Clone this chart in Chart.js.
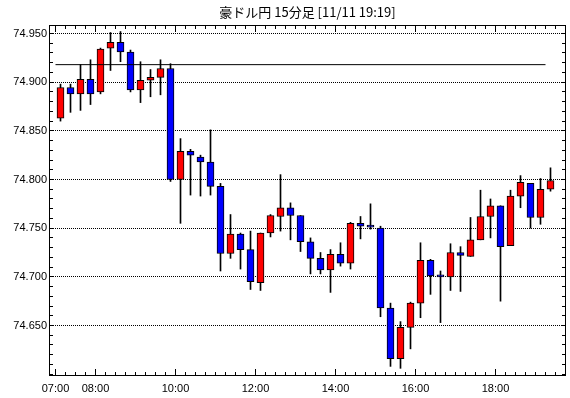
<!DOCTYPE html>
<html>
<head>
<meta charset="utf-8">
<script src="https://cdn.jsdelivr.net/npm/chart.js@4.4.1/dist/chart.umd.min.js"></script>
<style>
  html, body { margin: 0; padding: 0; background: #fff; }
  canvas { display: block; }
</style>
</head>
<body>
<canvas id="myChart" width="570" height="398"></canvas>
<script>
// 15-minute candles, 07:00 .. 19:15
const openPrices = [
    74.863, 74.8945, 74.888, 74.903, 74.890, 74.935, 74.941, 74.931, 74.892, 74.902,
    74.905, 74.914, 74.800, 74.829, 74.823, 74.818, 74.793, 74.724, 74.744, 74.728,
    74.694, 74.745, 74.762, 74.771, 74.763, 74.736, 74.719, 74.707, 74.723, 74.714,
    74.755, 74.752, 74.750, 74.668, 74.616, 74.648, 74.673, 74.717, 74.701, 74.700,
    74.725, 74.721, 74.738, 74.762, 74.773, 74.732, 74.783, 74.796, 74.761, 74.790
];
const highPrices = [
    74.898, 74.898, 74.918, 74.923, 74.935, 74.951, 74.952, 74.933, 74.921, 74.913,
    74.923, 74.919, 74.842, 74.831, 74.825, 74.851, 74.796, 74.764, 74.745, 74.747,
    74.745, 74.764, 74.805, 74.776, 74.763, 74.740, 74.725, 74.728, 74.735, 74.756,
    74.762, 74.775, 74.752, 74.673, 74.654, 74.674, 74.735, 74.718, 74.706, 74.734,
    74.731, 74.761, 74.789, 74.780, 74.773, 74.789, 74.804, 74.796, 74.801, 74.812
];
const lowPrices = [
    74.860, 74.869, 74.871, 74.877, 74.888, 74.912, 74.921, 74.890, 74.879, 74.885,
    74.887, 74.798, 74.755, 74.784, 74.783, 74.784, 74.706, 74.719, 74.708, 74.687,
    74.686, 74.741, 74.747, 74.738, 74.726, 74.703, 74.703, 74.684, 74.711, 74.708,
    74.739, 74.749, 74.659, 74.608, 74.606, 74.626, 74.658, 74.682, 74.653, 74.686,
    74.685, 74.721, 74.738, 74.740, 74.675, 74.732, 74.771, 74.750, 74.754, 74.788
];
const closePrices = [
    74.8945, 74.888, 74.903, 74.888, 74.934, 74.941, 74.931, 74.892, 74.902, 74.905,
    74.914, 74.800, 74.829, 74.825, 74.818, 74.793, 74.724, 74.744, 74.728, 74.695,
    74.745, 74.763, 74.771, 74.763, 74.736, 74.719, 74.707, 74.723, 74.714, 74.755,
    74.752, 74.751, 74.668, 74.616, 74.648, 74.673, 74.717, 74.701, 74.700, 74.725,
    74.722, 74.738, 74.762, 74.773, 74.731, 74.783, 74.797, 74.761, 74.790, 74.799
];

const timeLabels = ['07:00', '08:00', '10:00', '12:00', '14:00', '16:00', '18:00'];
const timeLabelSlots = [0, 4, 12, 20, 28, 36, 44];   // candle index each label sits in front of
const priceTicks = [74.65, 74.70, 74.75, 74.80, 74.85, 74.90, 74.95];
const refLevel = 74.918;

const UP_COLOR = '#ff0000';
const DOWN_COLOR = '#0000ff';

const wickData = highPrices.map((h, i) => ({ x: i, y: [lowPrices[i], h] }));
const bodyData = openPrices.map((o, i) => ({ x: i, y: [o, closePrices[i]] }));
const bodyColors = openPrices.map((o, i) => closePrices[i] >= o ? UP_COLOR : DOWN_COLOR);

const align = (p) => Math.round(p - 0.5) + 0.5;

// frame around the plot with small inward ticks, like the original
const framePlugin = {
    id: 'frame',
    afterDatasetsDraw(chart) {
        const { ctx, chartArea: a, scales: { x, y } } = chart;
        ctx.save();
        ctx.strokeStyle = '#000';
        ctx.lineWidth = 1;
        ctx.strokeRect(a.left + 0.5, a.top + 0.5, a.right - a.left - 1, a.bottom - a.top - 1);

        ctx.beginPath();
        for (let k = 60; k <= 95; k++) {
            const py = align(y.getPixelForValue(74 + k / 100));
            ctx.moveTo(a.left, py); ctx.lineTo(a.left + 4, py);
            ctx.moveTo(a.right, py); ctx.lineTo(a.right - 4, py);
        }
        for (let k = 0; -0.5 + k <= x.max; k++) {
            const px = align(x.getPixelForValue(k - 0.5));
            const len = timeLabelSlots.includes(k) ? 6 : 3;
            ctx.moveTo(px, a.bottom); ctx.lineTo(px, a.bottom - 1 - len);
            ctx.moveTo(px, a.top); ctx.lineTo(px, a.top + 1 + len);
        }
        ctx.stroke();
        ctx.restore();
    }
};

const labelFont = { family: '"Liberation Sans", Arial, sans-serif', size: 11 };

new Chart(document.getElementById('myChart'), {
    type: 'bar',
    data: {
        datasets: [
            {
                type: 'line',
                data: [{ x: -0.5, y: refLevel }, { x: 48.5, y: refLevel }],
                borderColor: '#000',
                borderWidth: 1,
                pointRadius: 0,
                order: 1
            },
            {
                data: bodyData,
                backgroundColor: bodyColors,
                borderColor: '#000',
                borderWidth: 1,
                borderSkipped: false,
                barThickness: 7,
                minBarLength: 2,
                grouped: false,
                order: 2
            },
            {
                data: wickData,
                backgroundColor: '#000',
                borderWidth: 0,
                barThickness: 1,
                grouped: false,
                order: 3
            }
        ]
    },
    options: {
        responsive: false,
        devicePixelRatio: 1,
        animation: false,
        layout: { padding: { left: 0, right: 4, top: 0, bottom: 0 } },
        plugins: {
            legend: { display: false },
            tooltip: { enabled: false },
            title: {
                display: true,
                text: '豪ドル円 15分足 [11/11 19:19]',
                fullSize: false,
                color: '#000',
                font: { family: '"Noto Sans CJK JP", sans-serif', size: 13, weight: 'normal' },
                padding: { top: 4, bottom: 5.4 }
            }
        },
        scales: {
            x: {
                type: 'linear',
                min: -1.15,
                max: 50.55,
                offset: false,
                grid: { display: false, drawTicks: false },
                border: { display: false },
                afterFit: (scale) => { scale.height = 22; },
                afterBuildTicks: (scale) => {
                    scale.ticks = timeLabelSlots.map(s => ({ value: s - 0.5 }));
                },
                ticks: {
                    autoSkip: false,
                    maxRotation: 0,
                    padding: 6,
                    color: '#000',
                    font: labelFont,
                    callback: (value) => timeLabels[timeLabelSlots.indexOf(Math.round(value + 0.5))]
                }
            },
            y: {
                type: 'linear',
                min: 74.59812,
                max: 74.95873,
                grid: { color: '#000', lineWidth: 1, drawTicks: false },
                border: { display: false, dash: [1, 1] },
                afterFit: (scale) => { scale.width = 49; },
                afterBuildTicks: (scale) => {
                    scale.ticks = priceTicks.map(v => ({ value: v }));
                },
                ticks: {
                    padding: 2,
                    color: '#000',
                    font: labelFont,
                    callback: (value) => value.toFixed(3)
                }
            }
        }
    },
    plugins: [framePlugin]
});
</script>
</body>
</html>
